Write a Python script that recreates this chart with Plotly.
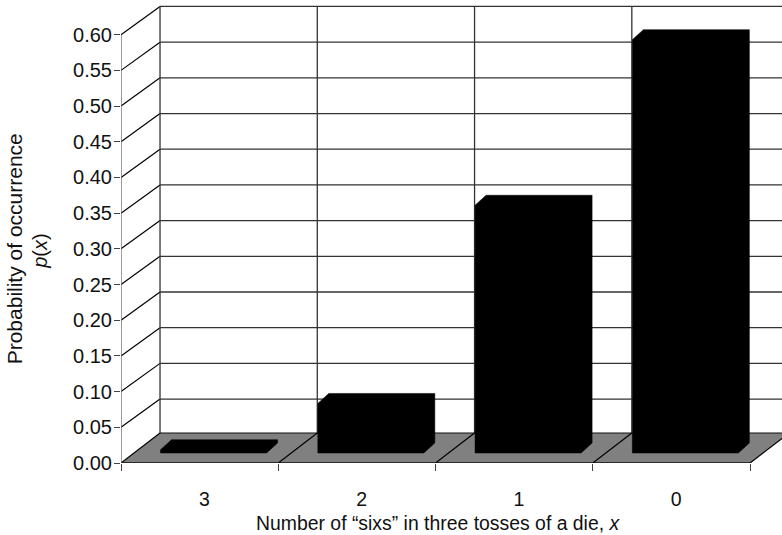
import plotly.graph_objects as go

categories = ["3", "2", "1", "0"]
probabilities = [0.0046, 0.0694, 0.347, 0.579]
y_ticks = [0.00, 0.05, 0.10, 0.15, 0.20, 0.25, 0.30, 0.35, 0.40, 0.45, 0.50, 0.55, 0.60]
y_tick_labels = ["0.00", "0.05", "0.10", "0.15", "0.20", "0.25", "0.30", "0.35", "0.40", "0.45", "0.50", "0.55", "0.60"]

W, H = 782, 535
L, B = 121.3, 72.3
UX, UY = 157.2, 713.4            # px per category / per unit probability
DX, DY = 39 / UX, 30 / UY        # depth of the floor
BAR_X0, BAR_W = 39.5 / UX, 106 / UX
BDX, BDY = 11 / UX, 10 / UY      # depth of a bar
LABEL_POS = 0.53
n = len(categories)

FONT = "Liberation Sans, Arial, sans-serif"
TEXT = "#111111"
fig = go.Figure()


def line(xs, ys, color, width):
    fig.add_trace(go.Scatter(x=xs, y=ys, mode="lines", cliponaxis=False, hoverinfo="skip",
                             showlegend=False, line=dict(color=color, width=width)))


# back wall horizontal grid lines and left wall diagonals
for t in y_ticks[1:]:
    line([DX, n + DX], [t + DY - 0.0025, t + DY - 0.0025], "#333333", 1.3)
    line([0, DX], [t, t + DY - 0.0025], "#000000", 1.2)

# back wall verticals
for i in range(n):
    line([i + DX, i + DX], [DY, y_ticks[-1] + DY - 0.0025], "#333333", 1.3)

# floor
fig.add_trace(go.Scatter(x=[0, n, n + DX, DX, 0], y=[0, 0, DY, DY, 0], mode="lines", fill="toself",
                         fillcolor="#808080", line=dict(width=0), cliponaxis=False,
                         hoverinfo="skip", showlegend=False))
line([DX, n + DX], [DY, DY], "#111111", 1.2)
for i in range(n + 1):
    line([i, i + DX], [0, DY], "#000000", 1.2)
line([0, n], [0, 0], "#111111", 1.5)
line([0, 0], [0, y_ticks[-1]], "#666666", 1.3)

# 3-D bars: silhouette built from each value
for i, v in enumerate(probabilities):
    x0 = i + BAR_X0
    x1 = x0 + BAR_W
    y0 = BDY
    y1 = BDY + v
    fig.add_trace(go.Scatter(
        x=[x0, x0, x0 + BDX, x1 + BDX, x1 + BDX, x1, x0],
        y=[y0, y1, y1 + BDY, y1 + BDY, y0 + BDY, y0, y0],
        mode="lines", fill="toself", fillcolor="#000000", line=dict(color="#000000", width=0.5),
        cliponaxis=False, hoverinfo="skip", showlegend=False))

# invisible trace for the category-label axis
fig.add_trace(go.Scatter(x=[LABEL_POS + i for i in range(n)], y=[0] * n, xaxis="x2", mode="markers",
                         marker=dict(opacity=0), hoverinfo="skip", showlegend=False))

x_range = [0, (W - L) / UX]
fig.update_layout(
    width=W, height=H, margin=dict(l=L, r=0, t=0, b=B, pad=0, autoexpand=False),
    paper_bgcolor="white", plot_bgcolor="white",
    font=dict(family=FONT, size=20, color=TEXT),
    xaxis=dict(range=x_range, tickmode="array", tickvals=list(range(n + 1)),
               ticktext=[""] * (n + 1), ticks="outside", ticklen=7, tickcolor="#444444",
               tickwidth=1, showgrid=False, zeroline=False, showline=False),
    xaxis2=dict(range=x_range, overlaying="x", side="bottom", anchor="y", tickmode="array",
                tickvals=[LABEL_POS + i for i in range(n)], ticktext=categories, ticks="",
                ticklabelstandoff=22, showgrid=False, zeroline=False, showline=False,
                tickfont=dict(family=FONT, size=19.5, color=TEXT)),
    yaxis=dict(range=[0, (H - B) / UY], tickmode="array", tickvals=y_ticks, ticktext=y_tick_labels,
               ticks="outside", ticklen=6, tickcolor="#444444", tickwidth=1, ticklabelstandoff=-2,
               showgrid=False, zeroline=False, showline=False,
               tickfont=dict(family=FONT, size=20, color=TEXT)),
    annotations=[
        dict(text="Number of “sixs” in three tosses of a die, <i>x</i>", xref="x", yref="paper",
             x=n / 2, xshift=2, y=0, yshift=-73, showarrow=False, font=dict(size=19.4)),
        dict(text="Probability of occurrence", xref="paper", yref="y", x=0, xshift=-120,
             y=y_ticks[-1] / 2, textangle=-90, showarrow=False, font=dict(size=21)),
        dict(text="<i>p</i>(<i>x</i>)", xref="paper", yref="y", x=0, xshift=-94,
             y=y_ticks[-1] / 2, yshift=-3, textangle=-90, showarrow=False, font=dict(size=20)),
    ],
)
fig.write_html("out.html", config={"displayModeBar": False},
               post_script="document.body.style.margin='0';")
